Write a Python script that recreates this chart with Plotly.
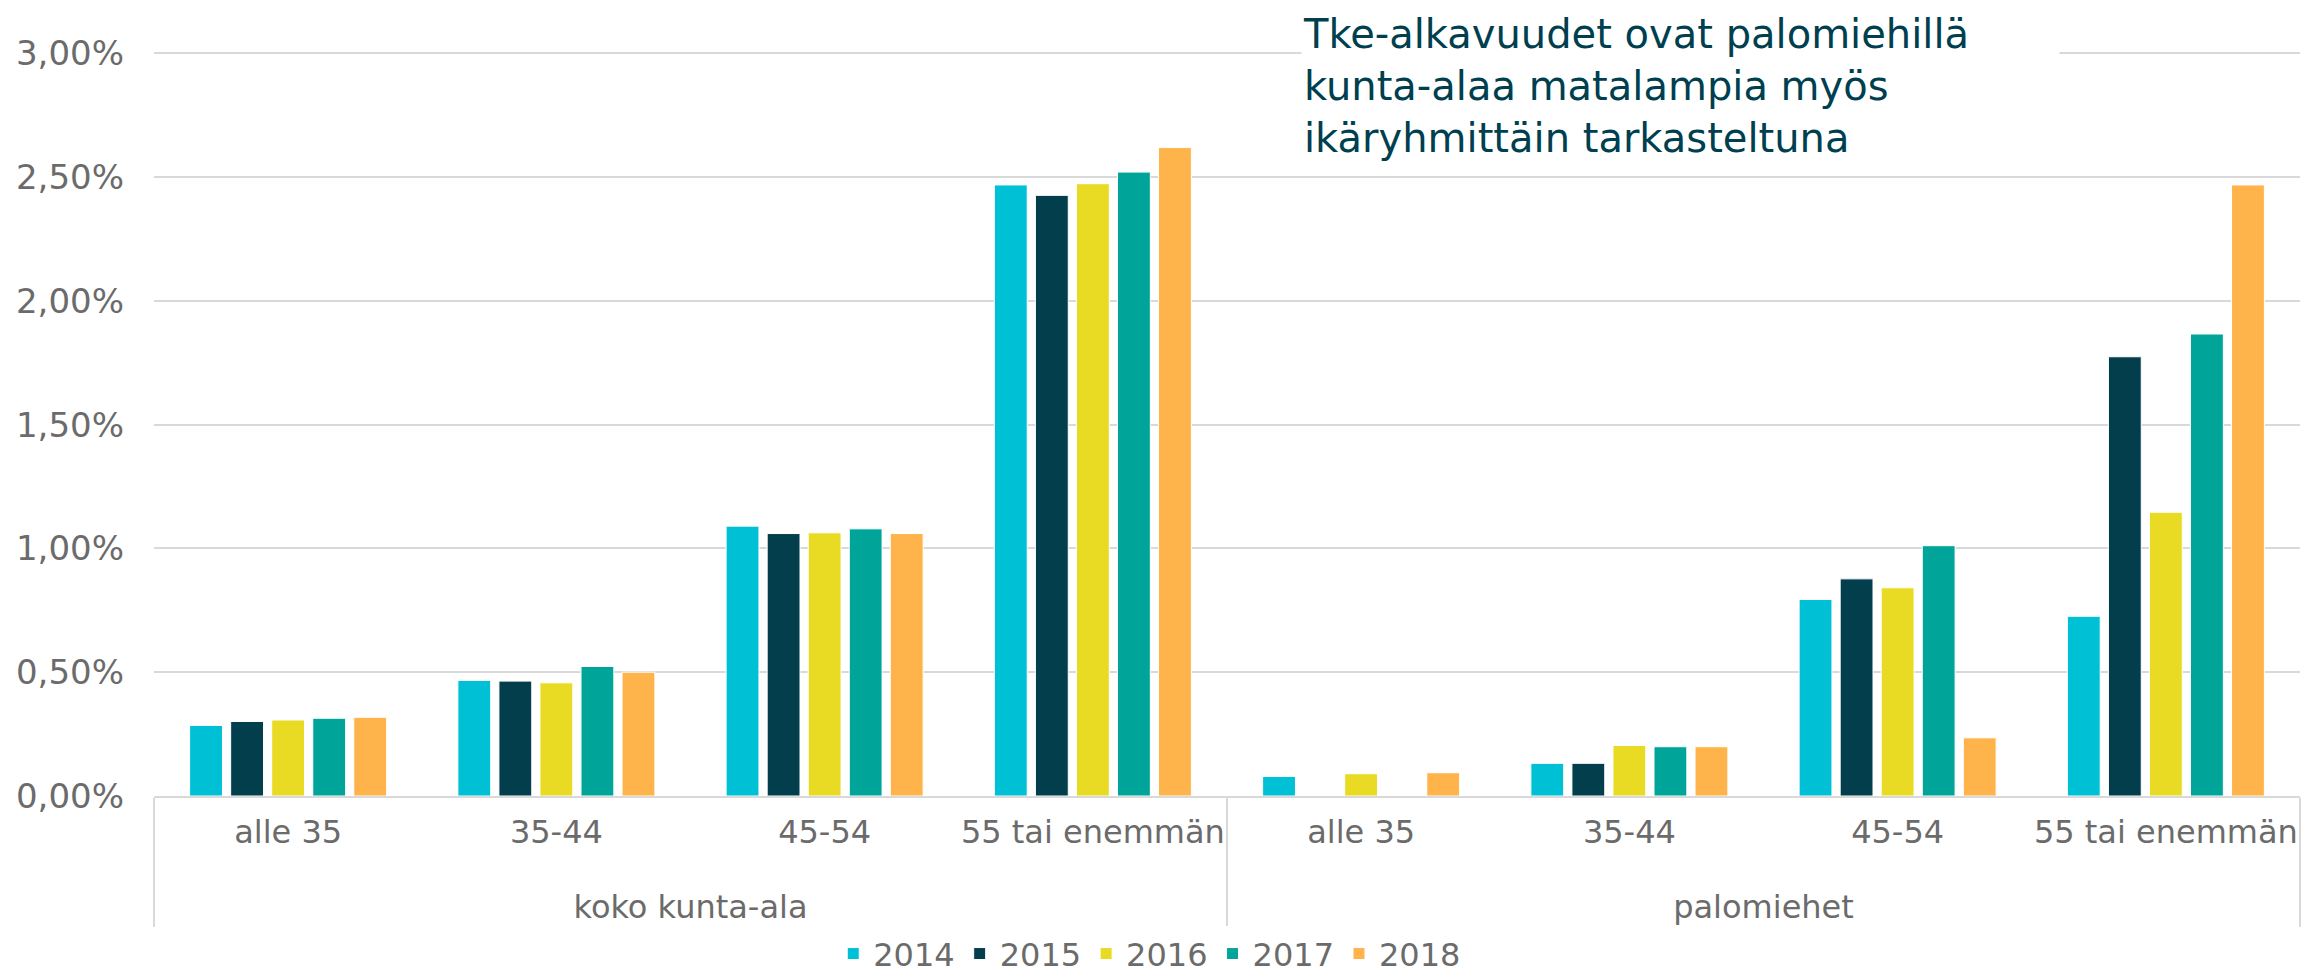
import plotly.graph_objects as go

# data (shares, 0.01 = 1 %)
groups = ['koko kunta-ala'] * 4 + ['palomiehet'] * 4
ages = ['alle 35', '35-44', '45-54', '55 tai enemmän'] * 2
years = ['2014', '2015', '2016', '2017', '2018']

v2014 = [0.00285, 0.00467, 0.01090, 0.02468, 0.00079, 0.00132, 0.00794, 0.00726]
v2015 = [0.00301, 0.00464, 0.01060, 0.02426, None, 0.00132, 0.00877, 0.01774]
v2016 = [0.00307, 0.00457, 0.01063, 0.02473, 0.00090, 0.00204, 0.00841, 0.01146]
v2017 = [0.00314, 0.00523, 0.01079, 0.02520, None, 0.00199, 0.01011, 0.01866]
v2018 = [0.00318, 0.00500, 0.01060, 0.02619, 0.00094, 0.00199, 0.00235, 0.02468]

colors = ['#00C0D5', '#023E4C', '#E9DA23', '#00A498', '#FFB34B']

GRAY = '#6B6B6B'
GRID = '#D9D9D9'
FONT = 'DejaVu Sans'

# push the upper label row down one line, as in the reference
group_labels = ['<br>' + g for g in groups]

fig = go.Figure()
for name, vals, col in zip(years, [v2014, v2015, v2016, v2017, v2018], colors):
    fig.add_trace(go.Bar(
        x=[group_labels, ages], y=vals, name=name,
        marker=dict(color=col, line=dict(color='white', width=1)),
    ))

# page body has an 8px margin, so the figure is 8px smaller than the window
fig.update_layout(
    width=2315, height=966,
    barmode='group', bargap=0.235, bargroupgap=0.2,
    separators=', ',
    plot_bgcolor='white', paper_bgcolor='white',
    margin=dict(l=146, r=23, t=44, b=178, autoexpand=False),
    font=dict(family=FONT, size=31, color=GRAY),
    legend=dict(
        orientation='h', x=0.464, xanchor='center', y=-0.249, yanchor='bottom',
        font=dict(size=32, color=GRAY), itemwidth=30,
    ),
    xaxis=dict(
        type='multicategory', showline=True, linecolor=GRID, linewidth=2,
        showdividers=True, dividercolor=GRID, dividerwidth=2,
        tickfont=dict(size=32, color=GRAY), ticks='', tickangle=0,
        ticklabelstandoff=7, automargin=False,
    ),
    yaxis=dict(
        range=[0, 0.03005], tickvals=[0, 0.005, 0.01, 0.015, 0.02, 0.025, 0.03],
        tickformat='.2%',
        showgrid=True, gridcolor=GRID, gridwidth=2, zeroline=False,
        tickfont=dict(size=34, color=GRAY), ticklabelstandoff=29,
        automargin=False,
    ),
)

fig.add_annotation(
    xref='paper', yref='paper', x=0.5347, y=1.0578, xanchor='left', yanchor='top',
    align='left', showarrow=False, bgcolor='white', borderpad=1, width=755,
    text='Tke-alkavuudet ovat palomiehillä<br>kunta-alaa matalampia myös<br>ikäryhmittäin tarkasteltuna',
    font=dict(family=FONT, size=40, color='#003F4F'),
)

fig.write_html('out.html')
